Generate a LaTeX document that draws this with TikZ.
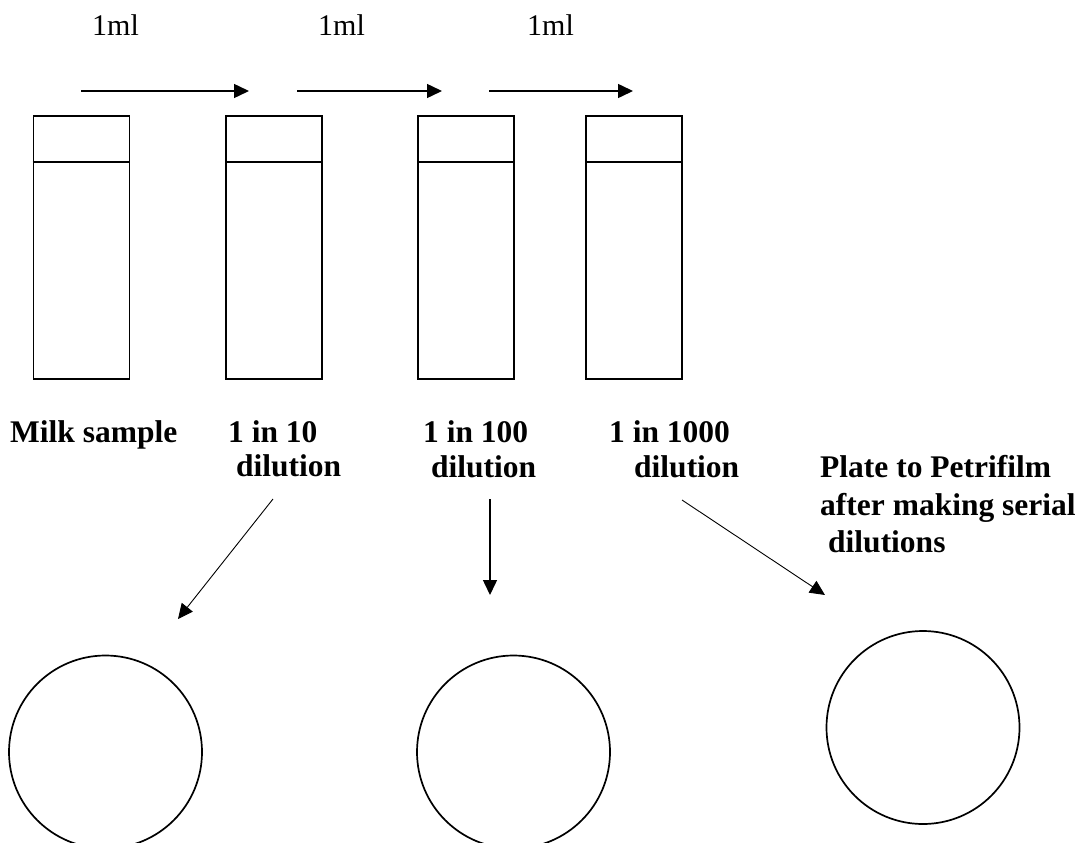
\documentclass[tikz,border=0pt]{standalone}
\usepackage{fontspec}
\setmainfont{Liberation Serif}
\usetikzlibrary{arrows.meta}
\tikzset{
  tube/.style={draw, line width=1.8pt, minimum width=96pt, minimum height=263pt, inner sep=0pt},
  plate/.style={draw, circle, line width=1.7pt, minimum size=193pt, inner sep=0pt},
  mltext/.style={anchor=base west, inner sep=0pt, font=\fontsize{30}{36}\selectfont},
  lbl/.style={anchor=base west, inner sep=0pt, font=\fontsize{31.5}{37}\selectfont\bfseries},
  transfer/.style={line width=1.5pt, -{Triangle[length=15pt,width=14pt]}},
  toplate/.style={line width=0.9pt, -{Triangle[length=15pt,width=14pt]}},
}
\begin{document}
\begin{tikzpicture}[x=1pt,y=-1pt]
\useasboundingbox (0,0) rectangle (1084,843);
\fill[white] (0,0) rectangle (1084,843);
% tubes
\node[tube] (t1) at (81.5,247.5) {};
\node[tube] (t2) at (274,247.5) {};
\node[tube] (t3) at (466,247.5) {};
\node[tube] (t4) at (634,247.5) {};
\foreach \t in {t1,t2,t3,t4}
  \draw[line width=1.8pt] ([yshift=-47pt]\t.north west) -- ([yshift=-47pt]\t.north east);
% transfer arrows
\coordinate (a1s) at (81,91);  \coordinate (a1e) at (249,91);
\coordinate (a2s) at (297,91); \coordinate (a2e) at (442,91);
\coordinate (a3s) at (489,91); \coordinate (a3e) at (633,91);
\draw[transfer] (a1s) -- (a1e);
\draw[transfer] (a2s) -- (a2e);
\draw[transfer] (a3s) -- (a3e);
\node[mltext] (m1) at (92,36) {1ml};
\node[mltext] (m2) at (318,36) {1ml};
\node[mltext] (m3) at (527,36) {1ml};
% labels
\node[lbl] (l1) at (10,442) {Milk sample};
\node[lbl] (l2a) at (228,442) {1 in 10};
\node[lbl] (l2b) at (236,476) {dilution};
\node[lbl] (l3a) at (423,442) {1 in 100};
\node[lbl] (l3b) at (431,477) {dilution};
\node[lbl] (l4a) at (609,442) {1 in 1000};
\node[lbl] (l4b) at (634,477) {dilution};
\node[lbl] (p1) at (820,477) {Plate to Petrifilm};
\node[lbl] (p2) at (820,515) {after making serial};
\node[lbl] (p3) at (828,552) {dilutions};
% plates
\node[plate] (c1) at (105.5,752) {};
\node[plate] (c2) at (513.5,752) {};
\node[plate] (c3) at (923,727.5) {};
% arrows to plates
\coordinate (d1s) at (273,499); \coordinate (d1e) at (178,619);
\coordinate (d2s) at (490,499); \coordinate (d2e) at (490,595);
\coordinate (d3s) at (682,500); \coordinate (d3e) at (825,595);
\draw[toplate] (d1s) -- (d1e);
\draw[transfer] (d2s) -- (d2e);
\draw[toplate] (d3s) -- (d3e);
\end{tikzpicture}
\end{document}
